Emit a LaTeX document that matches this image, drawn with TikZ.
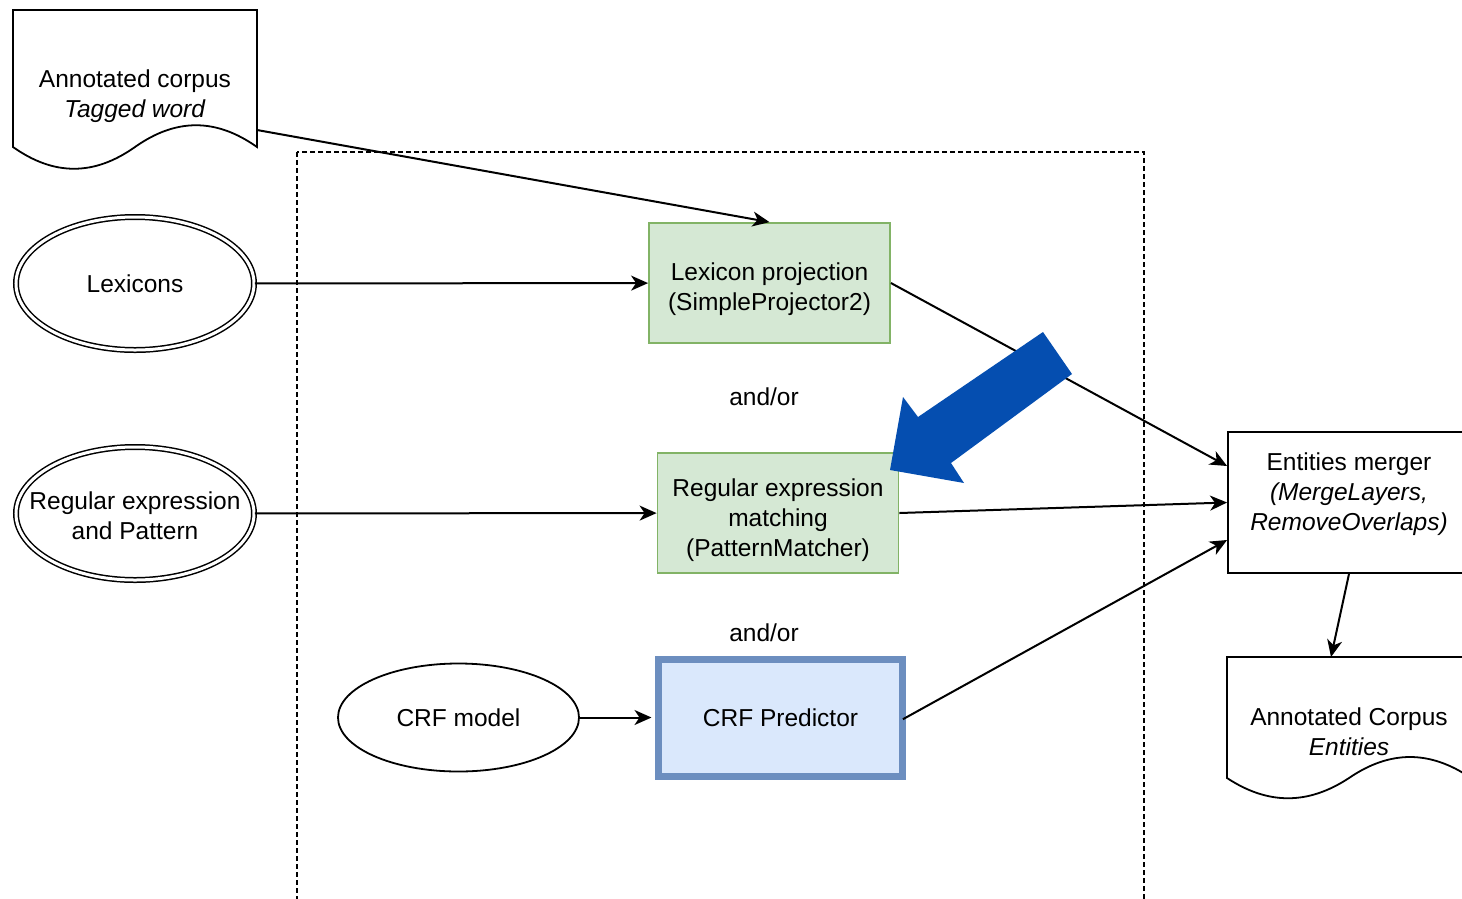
\documentclass[tikz,border=0pt]{standalone}
\usepackage{fontspec}
\setmainfont{Liberation Sans}
\usetikzlibrary{shapes.geometric, arrows.meta}

\definecolor{lexgreen}{HTML}{D5E8D4}
\definecolor{lexgreenline}{HTML}{82B366}
\definecolor{crfblue}{HTML}{DAE8FC}
\definecolor{crfblueline}{HTML}{6C8EBF}
\definecolor{bigblue}{HTML}{054EB0}

\tikzstyle{resource} = [ellipse, minimum width=238pt, minimum height=133pt, inner sep=0pt, draw=black, line width=1.5pt, double, double distance=3pt]
\tikzstyle{model} = [ellipse, minimum width=241pt, minimum height=108pt, inner sep=0pt, draw=black, line width=1.8pt]
\tikzstyle{greenbox} = [rectangle, minimum width=241pt, minimum height=120pt, align=center, draw=lexgreenline, fill=lexgreen, line width=1.8pt]
\tikzstyle{bluebox} = [rectangle, minimum width=244pt, minimum height=117pt, align=center, draw=crfblueline, fill=crfblue, line width=7pt]
\tikzstyle{plainbox} = [rectangle, minimum width=242pt, minimum height=141pt, draw=black, line width=1.8pt]
\tikzstyle{doc} = [line width=1.8pt]
\tikzstyle{arrow} = [line width=2pt, -{Stealth[length=17pt,width=15pt,inset=5pt]}]

\begin{document}
\begin{tikzpicture}[x=1pt, y=-1pt, node distance=230pt, every node/.style={font=\fontsize{24.5}{30}\selectfont}]
\useasboundingbox (0,0) rectangle (1462,898);

% dashed frame round the annotators
\draw[dash pattern=on 5pt off 3pt, line width=1.5pt] (297,152) rectangle (1144,930);

% Column 1 - resources
\draw[doc] (257,147) -- (257,10) -- (13,10) -- (13,147) .. controls (54,176) and (94,176) .. (135,147) .. controls (176,118) and (216,118) .. (257,147) -- cycle;
\node[align=center] (corpus) at (135,96) {Annotated corpus\\\textit{Tagged word}};
\coordinate (corpusOut) at (257,130);

\node (lexicons) [resource] at (135,283.5) {Lexicons};
\node (regexp) [resource, below of=lexicons, label={[align=center, yshift=-2pt]center:{Regular expression\\and Pattern}}] {};

% Column 2 - annotators
\node (lexbox) [greenbox, text height=60pt] at (769.5,283) {Lexicon projection\\(SimpleProjector2)};
\node (regexbox) [greenbox, below of=lexbox, xshift=8.5pt, text height=92pt] {Regular expression\\matching\\(PatternMatcher)};
\node (crfpred) [bluebox, below of=regexbox, node distance=204.5pt, xshift=2.5pt] {CRF Predictor};
\node (crfmodel) [model, left of=crfpred, node distance=322pt] {CRF model};

\node (andor1) at (764,397) {and/or};
\node (andor2) at (764,633) {and/or};

% Column 3 - merging
\node (merger) [plainbox, label={[align=center, yshift=8pt]center:{Entities merger\\\textit{(MergeLayers,}\\\textit{RemoveOverlaps)}}}] at (1349,502.5) {};

\draw[doc] (1471,778) -- (1471,657) -- (1227,657) -- (1227,778) .. controls (1268,805) and (1308,805) .. (1349,778) .. controls (1390,750) and (1430,750) .. (1471,778) -- cycle;
\node[align=center] (entities) at (1349,731.5) {Annotated Corpus\\\textit{Entities}};
\coordinate (entitiesIn) at (1331,657);

% Arrows
\draw [arrow] (corpusOut) -- (lexbox.north);
\draw [arrow] (lexicons) -- (lexbox);
\draw [arrow] (regexp) -- (regexbox);
\draw [arrow, shorten >=3.5pt] (crfmodel) -- (crfpred);

\draw [arrow] (lexbox.east) -- ([yshift=36.5pt]merger.west);
\draw [arrow] (regexbox.east) -- (merger.west);
\draw [arrow, shorten <=-3.5pt] (crfpred.east) -- ([yshift=-37.5pt]merger.west);
\draw [arrow] (merger.south) -- (entitiesIn);

% big pointer on the pattern matcher
\fill[bigblue] (890,470) -- (903,397) -- (918,417) -- (1043,332) -- (1072,374) -- (951,463) -- (964,483) -- cycle;

\end{tikzpicture}
\end{document}
